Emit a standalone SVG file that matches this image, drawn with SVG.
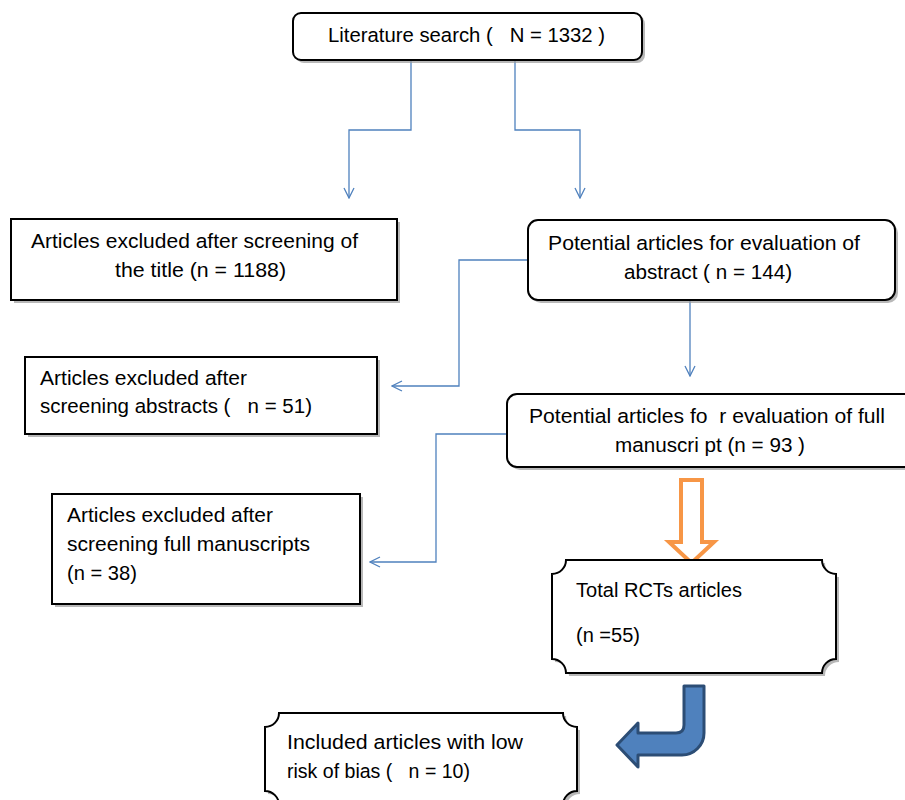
<svg xmlns="http://www.w3.org/2000/svg" width="905" height="800" viewBox="0 0 905 800">
<defs>
<style>
.box{fill:#fff;stroke:#000;stroke-width:2}
.sh{fill:#9a9a9a;opacity:0.7}
.t{font-family:"Liberation Sans",Arial,sans-serif;font-size:20.5px;fill:#000}
.con{fill:none;stroke:#4F81BD;stroke-width:1.3}
</style>
<marker id="ah" viewBox="0 0 12 12" refX="11" refY="6" markerWidth="12" markerHeight="12" markerUnits="userSpaceOnUse" orient="auto">
<path d="M1 1 L11 6 L1 11" fill="none" stroke="#4F81BD" stroke-width="1.3"/>
</marker>
</defs>
<rect width="905" height="800" fill="#fff"/>

<g id="connectors">
<path class="con" d="M411 60 V130 H349 V198" marker-end="url(#ah)"/>
<path class="con" d="M515 60 V130 H580 V198" marker-end="url(#ah)"/>
<path class="con" d="M528 260 H459 V386 H392" marker-end="url(#ah)"/>
<path class="con" d="M690 300 V376" marker-end="url(#ah)"/>
<path class="con" d="M507 434 H436 V562 H370" marker-end="url(#ah)"/>
<path d="M681 480 H702 V542 H714 L691.5 563 L669 542 H681 Z" fill="#fff" stroke="#F79646" stroke-width="4" stroke-linejoin="miter"/>
<path d="M684 686 H704 V733 A22 22 0 0 1 682 755 H638 V767 L617 745 L638 723 V733 H676 Q684 733 684 725 Z" fill="#4F81BD" stroke="#2C4D75" stroke-width="3" stroke-linejoin="round"/>
</g>

<g id="literature-search">
<rect class="sh" x="296" y="16" width="349" height="47" rx="8"/>
<rect class="box" x="293" y="13" width="349" height="47" rx="8"/>
<text class="t" x="328" y="42" textLength="277" lengthAdjust="spacingAndGlyphs" xml:space="preserve">Literature search (   N = 1332 )</text>
</g>

<g id="excluded-title">
<rect class="sh" x="14" y="222" width="386" height="81"/>
<rect class="box" x="11" y="219" width="386" height="81"/>
<text class="t" x="31" y="248" textLength="327" lengthAdjust="spacingAndGlyphs">Articles excluded after screening of</text>
<text class="t" x="115" y="277" textLength="171" lengthAdjust="spacingAndGlyphs">the title (n = 1188)</text>
</g>

<g id="potential-abstract">
<rect class="sh" x="531" y="223" width="367" height="80" rx="10"/>
<rect class="box" x="528" y="220" width="367" height="80" rx="10"/>
<text class="t" x="548" y="250" textLength="312" lengthAdjust="spacingAndGlyphs">Potential articles for evaluation of</text>
<text class="t" x="624" y="279" textLength="168" lengthAdjust="spacingAndGlyphs">abstract ( n = 144)</text>
</g>

<g id="excluded-abstracts">
<rect class="sh" x="28" y="360" width="352" height="77"/>
<rect class="box" x="25" y="357" width="352" height="77"/>
<text class="t" x="40" y="385" textLength="207" lengthAdjust="spacingAndGlyphs">Articles excluded after</text>
<text class="t" x="40" y="413" textLength="272" lengthAdjust="spacingAndGlyphs" xml:space="preserve">screening abstracts (   n = 51)</text>
</g>

<g id="potential-full">
<rect class="sh" x="510" y="397" width="410" height="73" rx="10"/>
<rect class="box" x="507" y="394" width="410" height="73" rx="10"/>
<text class="t" x="529" y="423" textLength="356" lengthAdjust="spacingAndGlyphs" xml:space="preserve">Potential articles fo  r evaluation of full</text>
<text class="t" x="615" y="452" textLength="190" lengthAdjust="spacingAndGlyphs">manuscri pt (n = 93 )</text>
</g>

<g id="excluded-full">
<rect class="sh" x="55" y="497" width="308" height="110"/>
<rect class="box" x="52" y="494" width="308" height="110"/>
<text class="t" x="67" y="522" textLength="206" lengthAdjust="spacingAndGlyphs">Articles excluded after</text>
<text class="t" x="67" y="551" textLength="243" lengthAdjust="spacingAndGlyphs">screening full manuscripts</text>
<text class="t" x="67" y="580" textLength="70" lengthAdjust="spacingAndGlyphs">(n = 38)</text>
</g>

<g id="total-rcts">
<path class="sh" d="M569 563 H825 A14 14 0 0 0 839 577 V662 A14 14 0 0 0 825 676 H569 A14 14 0 0 0 555 662 V577 A14 14 0 0 0 569 563 Z"/>
<path class="box" d="M566 560 H822 A14 14 0 0 0 836 574 V659 A14 14 0 0 0 822 673 H566 A14 14 0 0 0 552 659 V574 A14 14 0 0 0 566 560 Z"/>
<text class="t" x="576" y="597" textLength="166" lengthAdjust="spacingAndGlyphs">Total RCTs articles</text>
<text class="t" x="576" y="642" textLength="64" lengthAdjust="spacingAndGlyphs">(n =55)</text>
</g>

<g id="included">
<path class="sh" d="M282 716 H566 A14 14 0 0 0 580 730 V794 A14 14 0 0 0 566 808 H282 A14 14 0 0 0 268 794 V730 A14 14 0 0 0 282 716 Z"/>
<path class="box" d="M279 713 H563 A14 14 0 0 0 577 727 V791 A14 14 0 0 0 563 805 H279 A14 14 0 0 0 265 791 V727 A14 14 0 0 0 279 713 Z"/>
<text class="t" x="287" y="749" textLength="236" lengthAdjust="spacingAndGlyphs">Included articles with low</text>
<text class="t" x="287" y="778" textLength="183" lengthAdjust="spacingAndGlyphs" xml:space="preserve">risk of bias (   n = 10)</text>
</g>
</svg>
